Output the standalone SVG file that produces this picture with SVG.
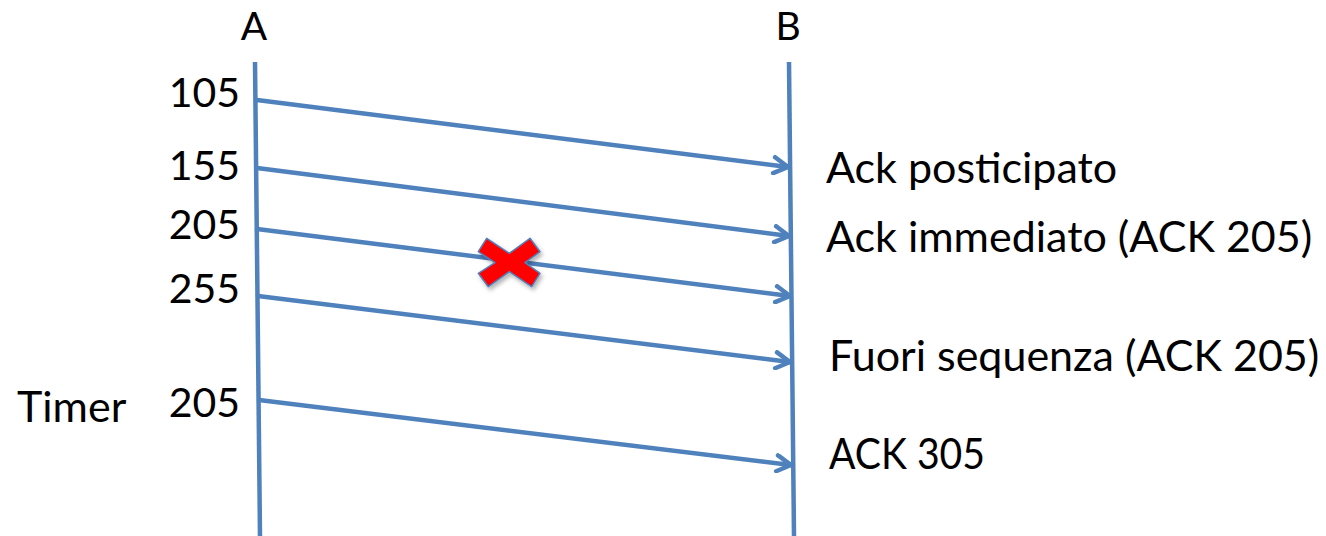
<svg xmlns="http://www.w3.org/2000/svg" width="1326" height="536" viewBox="0 0 1326 536">
<style>
.t{font-family:"Lato","Open Sans","Liberation Sans",sans-serif;font-size:43px;fill:#000}
.n{font-family:"Lato","Open Sans","Liberation Sans",sans-serif;font-size:41px;fill:#000}
.h{font-family:"Lato","Open Sans","Liberation Sans",sans-serif;font-size:39px;fill:#000}
.ln{stroke:#4F81BD;stroke-width:4.5;fill:none}
.ar{stroke:#4F81BD;stroke-width:4.5;fill:none;stroke-linecap:round;stroke-linejoin:round}
</style>
<defs>
<marker id="ah" viewBox="0 0 20 20" refX="18" refY="10" markerWidth="20" markerHeight="20" markerUnits="userSpaceOnUse" orient="auto">
<path d="M4,2 L18,10 L4,18" fill="none" stroke="#4F81BD" stroke-width="4.5" stroke-linecap="round" stroke-linejoin="round"/>
</marker>
<filter id="sh" x="-20%" y="-20%" width="150%" height="150%">
<feDropShadow dx="2" dy="3" stdDeviation="2" flood-color="#000" flood-opacity="0.3"/>
</filter>
</defs>
<g id="lifeline-A">
<line class="ln" x1="255" y1="62" x2="260" y2="536"/>
<text class="h" x="254" y="40" text-anchor="middle">A</text>
</g>
<g id="lifeline-B">
<line class="ln" x1="789" y1="62" x2="794" y2="536"/>
<text class="h" x="788" y="40" text-anchor="middle">B</text>
</g>
<g id="labels-left">
<text class="n" x="240" y="107" text-anchor="end">105</text>
<text class="n" x="240" y="180" text-anchor="end">155</text>
<text class="n" x="240" y="239" text-anchor="end">205</text>
<text class="n" x="240" y="303" text-anchor="end">255</text>
<text class="n" x="240" y="417" text-anchor="end">205</text>
<text class="t" x="17" y="422">Timer</text>
</g>
<g id="labels-right">
<text class="t" x="826" y="183">Ack posticipato</text>
<text class="t" x="826" y="252">Ack immediato (ACK 205)</text>
<text class="t" x="829" y="371">Fuori sequenza (ACK 205)</text>
<text class="t" x="829" y="469" textLength="156" lengthAdjust="spacingAndGlyphs">ACK 305</text>
</g>
<g id="connectors">
<line class="ar" x1="257" y1="100" x2="788" y2="167" marker-end="url(#ah)"/>
<line class="ar" x1="257" y1="168" x2="789" y2="236" marker-end="url(#ah)"/>
<line class="ar" x1="257" y1="229" x2="790" y2="296" marker-end="url(#ah)"/>
<line class="ar" x1="258" y1="296" x2="790" y2="362" marker-end="url(#ah)"/>
<line class="ar" x1="259" y1="400" x2="791" y2="465" marker-end="url(#ah)"/>
</g>
<g id="lost-mark">
<polygon points="478.3,251.7 486.7,238.3 509.3,253.3 530,238.3 540,251.7 525,262.7 540,273.3 531.7,286.7 509.3,271.7 488.3,286.7 478.3,273.3 495,262.7" fill="#FF0000" stroke="#4F81BD" stroke-width="1.5" stroke-linejoin="round" filter="url(#sh)"/>
</g>
</svg>
